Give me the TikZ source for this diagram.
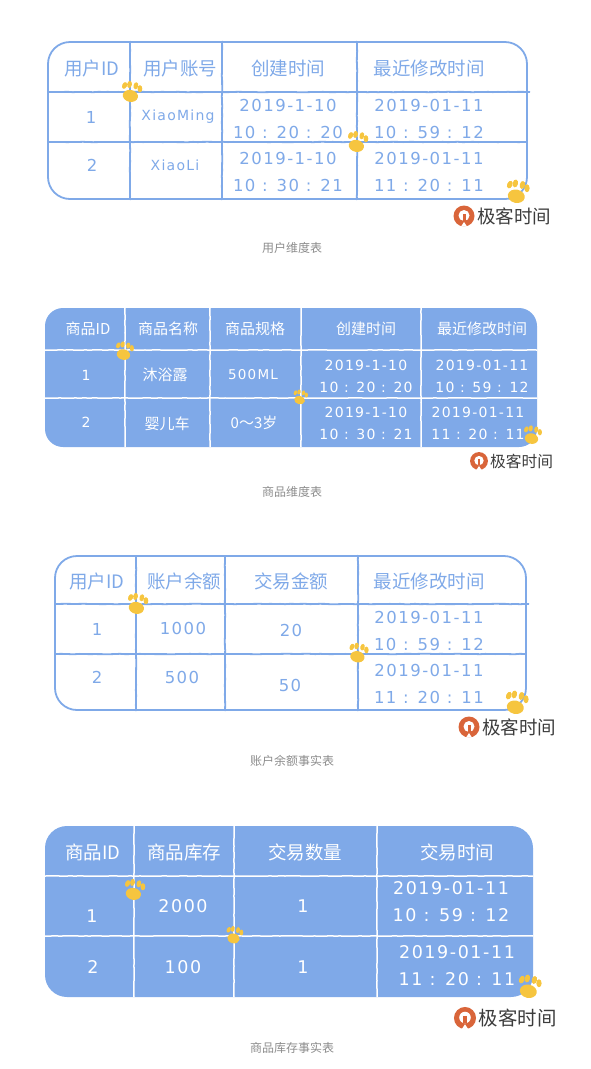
\documentclass[tikz,border=0pt]{standalone}
\usepackage{fontspec}
\setmainfont{Noto Sans CJK SC}
\newfontfamily\numfont[LetterSpace=9]{DejaVu Sans}
\usetikzlibrary{decorations.pathmorphing}
\definecolor{sketchblue}{HTML}{7FA9E8}
\definecolor{pawyellow}{HTML}{F6C53F}
\definecolor{logoorange}{HTML}{D9653A}
\definecolor{logogray}{HTML}{3C3C3C}
\tikzset{
    rough/.style={decorate,decoration={random steps,segment length=5pt,amplitude=0.2pt}},
    frameline/.style={draw=sketchblue,line width=1.8pt},
    blueline/.style={draw=sketchblue,line width=1.8pt,rough},
    whiteline/.style={draw=white,line width=1.5pt,rough},
    head/.style={inner sep=0pt,text=sketchblue,font=\fontsize{18.5}{22}\selectfont},
    headw/.style={inner sep=0pt,text=white,font=\fontsize{15}{18}\selectfont},
    val/.style={inner sep=0pt,align=center,text=sketchblue,font=\fontsize{16.5}{27}\selectfont\numfont},
    valw/.style={inner sep=0pt,align=center,text=white,font=\fontsize{14}{22}\selectfont\numfont},
    valb/.style={inner sep=0pt,align=center,text=white,font=\fontsize{17.5}{27}\selectfont\numfont},
    word/.style={inner sep=0pt,text=sketchblue,font=\fontsize{14}{18}\selectfont\numfont},
    wordw/.style={inner sep=0pt,text=white,font=\fontsize{13.5}{16}\selectfont\numfont},
    caption/.style={inner sep=0pt,text=black!45,font=\fontsize{12}{14}\selectfont}
}
\newcommand{\pawmark}[3]{%
    \begin{scope}[shift={(#1,#2)},rotate=-12,scale=#3,fill=pawyellow,draw=none]
        \fill (0,3.5) ellipse (9 and 7);
        \fill[rotate=-12] (-10.5,-5) ellipse (2.8 and 4.2);
        \fill (-3.8,-9.5) ellipse (2.8 and 4.2);
        \fill (3.8,-9.5) ellipse (2.8 and 4.2);
        \fill[rotate=12] (10.5,-5) ellipse (2.8 and 4.2);
    \end{scope}}
\newcommand{\logomark}[3]{%
    \begin{scope}[shift={(#1,#2)},scale=#3]
        \fill[logoorange] (0,0) circle (10.5);
        \fill[white] (0,-0.5) circle (5.5);
        \fill[logoorange] (-1.5,-2) rectangle (1.5,5);
        \fill[white] (-3,10.5) -- (3,10.5) -- (0,6) -- cycle;
        \node[inner sep=0pt,anchor=west,text=logogray,scale=#3,font=\fontsize{18.5}{22}\selectfont] at (13,0) {极客时间};
    \end{scope}}

\begin{document}
\begin{tikzpicture}[x=1pt,y=-1pt]
    \useasboundingbox (0,0) rectangle (590,1069);
    % first table
    \draw[frameline,rounded corners=22pt] (48,42) rectangle (527,199);
    \foreach \x in {130,222,357}
        \draw[blueline] (\x,41) -- (\x,200);
    \draw[blueline] (48,92) -- (530,92);
    \draw[blueline] (48,142) -- (527,142);
    \node[head] (ah1) at (92,68) {用户ID};
    \node[head] (ah2) at (180,68) {用户账号};
    \node[head] (ah3) at (288,68) {创建时间};
    \node[head] (ah4) at (429,68) {最近修改时间};
    \node[val] (a11) at (91,117) {1};
    \node[word] (a12) at (178,117) {XiaoMing};
    \node[val] (a13) at (288,119) {2019-1-10\\10 : 20 : 20};
    \node[val] (a14) at (429,119) {2019-01-11\\10 : 59 : 12};
    \node[val] (a21) at (92,165) {2};
    \node[word] (a22) at (175,165) {XiaoLi};
    \node[val] (a23) at (288,172) {2019-1-10\\10 : 30 : 21};
    \node[val] (a24) at (429,172) {2019-01-11\\11 : 20 : 11};
    \pawmark{131}{93}{0.85}
    \pawmark{357}{143}{0.85}
    \pawmark{517}{193}{0.95}
    \logomark{464}{216}{1}
    \node[caption] (acap) at (292,248) {用户维度表};
    % second table
    \fill[sketchblue,rounded corners=18pt] (45,308) rectangle (537,447);
    \foreach \x in {125,210,301,421}
        \draw[whiteline] (\x,308) -- (\x,447);
    \draw[whiteline] (45,350) -- (537,350);
    \draw[whiteline] (45,398) -- (537,398);
    \node[headw] (bh1) at (88,329) {商品ID};
    \node[headw] (bh2) at (168,329) {商品名称};
    \node[headw] (bh3) at (255,329) {商品规格};
    \node[headw] (bh4) at (366,329) {创建时间};
    \node[headw] (bh5) at (482,329) {最近修改时间};
    \node[valw] (b11) at (86,375) {1};
    \node[headw] (b12) at (165,375) {沐浴露};
    \node[wordw] (b13) at (253,375) {500ML};
    \node[valw] (b14) at (366,376) {2019-1-10\\10 : 20 : 20};
    \node[valw] (b15) at (482,376) {2019-01-11\\10 : 59 : 12};
    \node[valw] (b21) at (86,422) {2};
    \node[headw] (b22) at (167,424) {婴儿车};
    \node[headw] (b23) at (254,423) {0～3岁};
    \node[valw] (b24) at (366,423) {2019-1-10\\10 : 30 : 21};
    \node[valw] (b25) at (478,423) {2019-01-11\\11 : 20 : 11};
    \pawmark{124}{352}{0.75}
    \pawmark{300}{398}{0.6}
    \pawmark{532}{436}{0.75}
    \logomark{479}{461}{0.85}
    \node[caption] (bcap) at (292,492) {商品维度表};
    % third table
    \draw[frameline,rounded corners=22pt] (55,556) rectangle (526,710);
    \foreach \x in {136,225,358}
        \draw[blueline] (\x,555) -- (\x,711);
    \draw[blueline] (55,604) -- (529,604);
    \draw[blueline] (55,654) -- (526,654);
    \node[head] (ch1) at (97,581) {用户ID};
    \node[head] (ch2) at (184,581) {账户余额};
    \node[head] (ch3) at (291,581) {交易金额};
    \node[head] (ch4) at (429,581) {最近修改时间};
    \node[val] (c11) at (97,629) {1};
    \node[val] (c12) at (183,628) {1000};
    \node[val] (c13) at (291,630) {20};
    \node[val] (c14) at (429,631) {2019-01-11\\10 : 59 : 12};
    \node[val] (c21) at (97,677) {2};
    \node[val] (c22) at (182,677) {500};
    \node[val] (c23) at (290,685) {50};
    \node[val] (c24) at (429,684) {2019-01-11\\11 : 20 : 11};
    \pawmark{137}{605}{0.85}
    \pawmark{358}{654}{0.8}
    \pawmark{516}{704}{0.95}
    \logomark{469}{727}{1}
    \node[caption] (ccap) at (292,761) {账户余额事实表};
    % fourth table
    \fill[sketchblue,rounded corners=22pt] (45,826) rectangle (533,997);
    \foreach \x in {134,234,377}
        \draw[whiteline] (\x,826) -- (\x,997);
    \draw[whiteline] (45,876) -- (533,876);
    \draw[whiteline] (45,936) -- (533,936);
    \node[head,text=white] (dh1) at (93,852) {商品ID};
    \node[head,text=white] (dh2) at (184,852) {商品库存};
    \node[head,text=white] (dh3) at (305,852) {交易数量};
    \node[head,text=white] (dh4) at (457,852) {交易时间};
    \node[valb] (d11) at (92,916) {1};
    \node[valb] (d12) at (183,906) {2000};
    \node[valb] (d13) at (303,906) {1};
    \node[valb] (d14) at (451,902) {2019-01-11\\10 : 59 : 12};
    \node[valb] (d21) at (93,967) {2};
    \node[valb] (d22) at (183,967) {100};
    \node[valb] (d23) at (303,967) {1};
    \node[valb] (d24) at (457,966) {2019-01-11\\11 : 20 : 11};
    \pawmark{134}{891}{0.85}
    \pawmark{234}{936}{0.7}
    \pawmark{529}{988}{0.95}
    \logomark{465}{1018}{1.05}
    \node[caption] (dcap) at (292,1048) {商品库存事实表};
\end{tikzpicture}
\end{document}
